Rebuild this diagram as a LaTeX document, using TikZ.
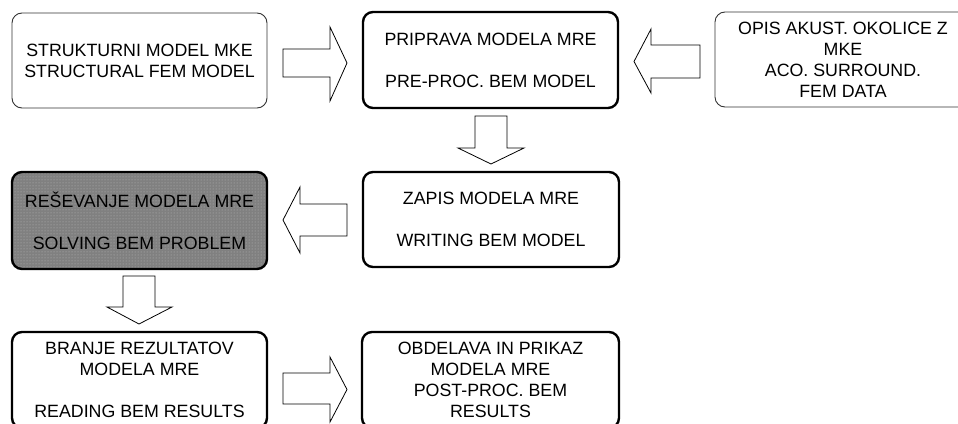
\documentclass[tikz,border=0pt]{standalone}
\usepackage{fontspec}
\setmainfont{Liberation Sans}
\usetikzlibrary{patterns}
\begin{document}
\begin{tikzpicture}[x=1pt,y=-1pt,
  box/.style={draw, rounded corners=10pt, minimum width=255pt, minimum height=95pt,
    inner sep=0pt, align=center, font=\fontsize{17.8}{21}\selectfont},
  thinbox/.style={box, line width=0.9pt, draw=black!80},
  thickbox/.style={box, line width=2.4pt},
  blockarrow/.style={draw, line width=0.8pt, fill=white, line join=miter}]
\clip (0,0) rectangle (958,423);
\fill[white] (0,0) rectangle (958,423);

\node[thinbox] (b1) at (139.5,60.5) {STRUKTURNI MODEL MKE\\STRUCTURAL FEM MODEL};
\node[thickbox, minimum height=96pt] (b2) at (490.5,60) {PRIPRAVA MODELA MRE\\[21pt]PRE-PROC. BEM MODEL};
\node[thinbox, minimum width=256pt] (b3) at (843,59.5) {OPIS AKUST. OKOLICE Z\\MKE\\ACO. SURROUND.\\FEM DATA};
\node[thickbox, minimum width=256pt] (b4) at (491,219.5) {ZAPIS MODELA MRE\\[21pt]WRITING BEM MODEL};
\node[thickbox, minimum height=97pt,
  preaction={fill={rgb,255:red,128;green,128;blue,128}},
  pattern=dots, pattern color={rgb,255:red,185;green,185;blue,185}] (b5) at (139.5,220.5)
  {REŠEVANJE MODELA MRE\\[21pt]SOLVING BEM PROBLEM};
\node[thickbox, minimum height=96pt] (b6) at (139.5,380) {BRANJE REZULTATOV\\MODELA MRE\\[21pt]READING BEM RESULTS};
\node[thickbox, minimum width=257pt, minimum height=96pt] (b7) at (490.5,380) {OBDELAVA IN PRIKAZ\\MODELA MRE\\POST-PROC. BEM\\RESULTS};

% block arrows
\draw[blockarrow] (283,49) -- (330,49) -- (330,27) -- (347,63) -- (330,101) -- (330,77) -- (283,77) -- cycle;
\draw[blockarrow] (700,45) -- (651,45) -- (651,29) -- (634,61.5) -- (651,93) -- (651,78) -- (700,78) -- cycle;
\draw[blockarrow] (475,116) -- (475,148) -- (458,148) -- (491,164) -- (524,148) -- (507,148) -- (507,116) -- cycle;
\draw[blockarrow] (347,204) -- (300,204) -- (300,187) -- (283,220) -- (300,253) -- (300,236) -- (347,236) -- cycle;
\draw[blockarrow] (123,276) -- (123,307) -- (107,307) -- (139,324) -- (172,307) -- (155,307) -- (155,276) -- cycle;
\draw[blockarrow] (283,373) -- (330,373) -- (330,357) -- (347,389.5) -- (330,422) -- (330,404) -- (283,404) -- cycle;
\end{tikzpicture}
\end{document}
